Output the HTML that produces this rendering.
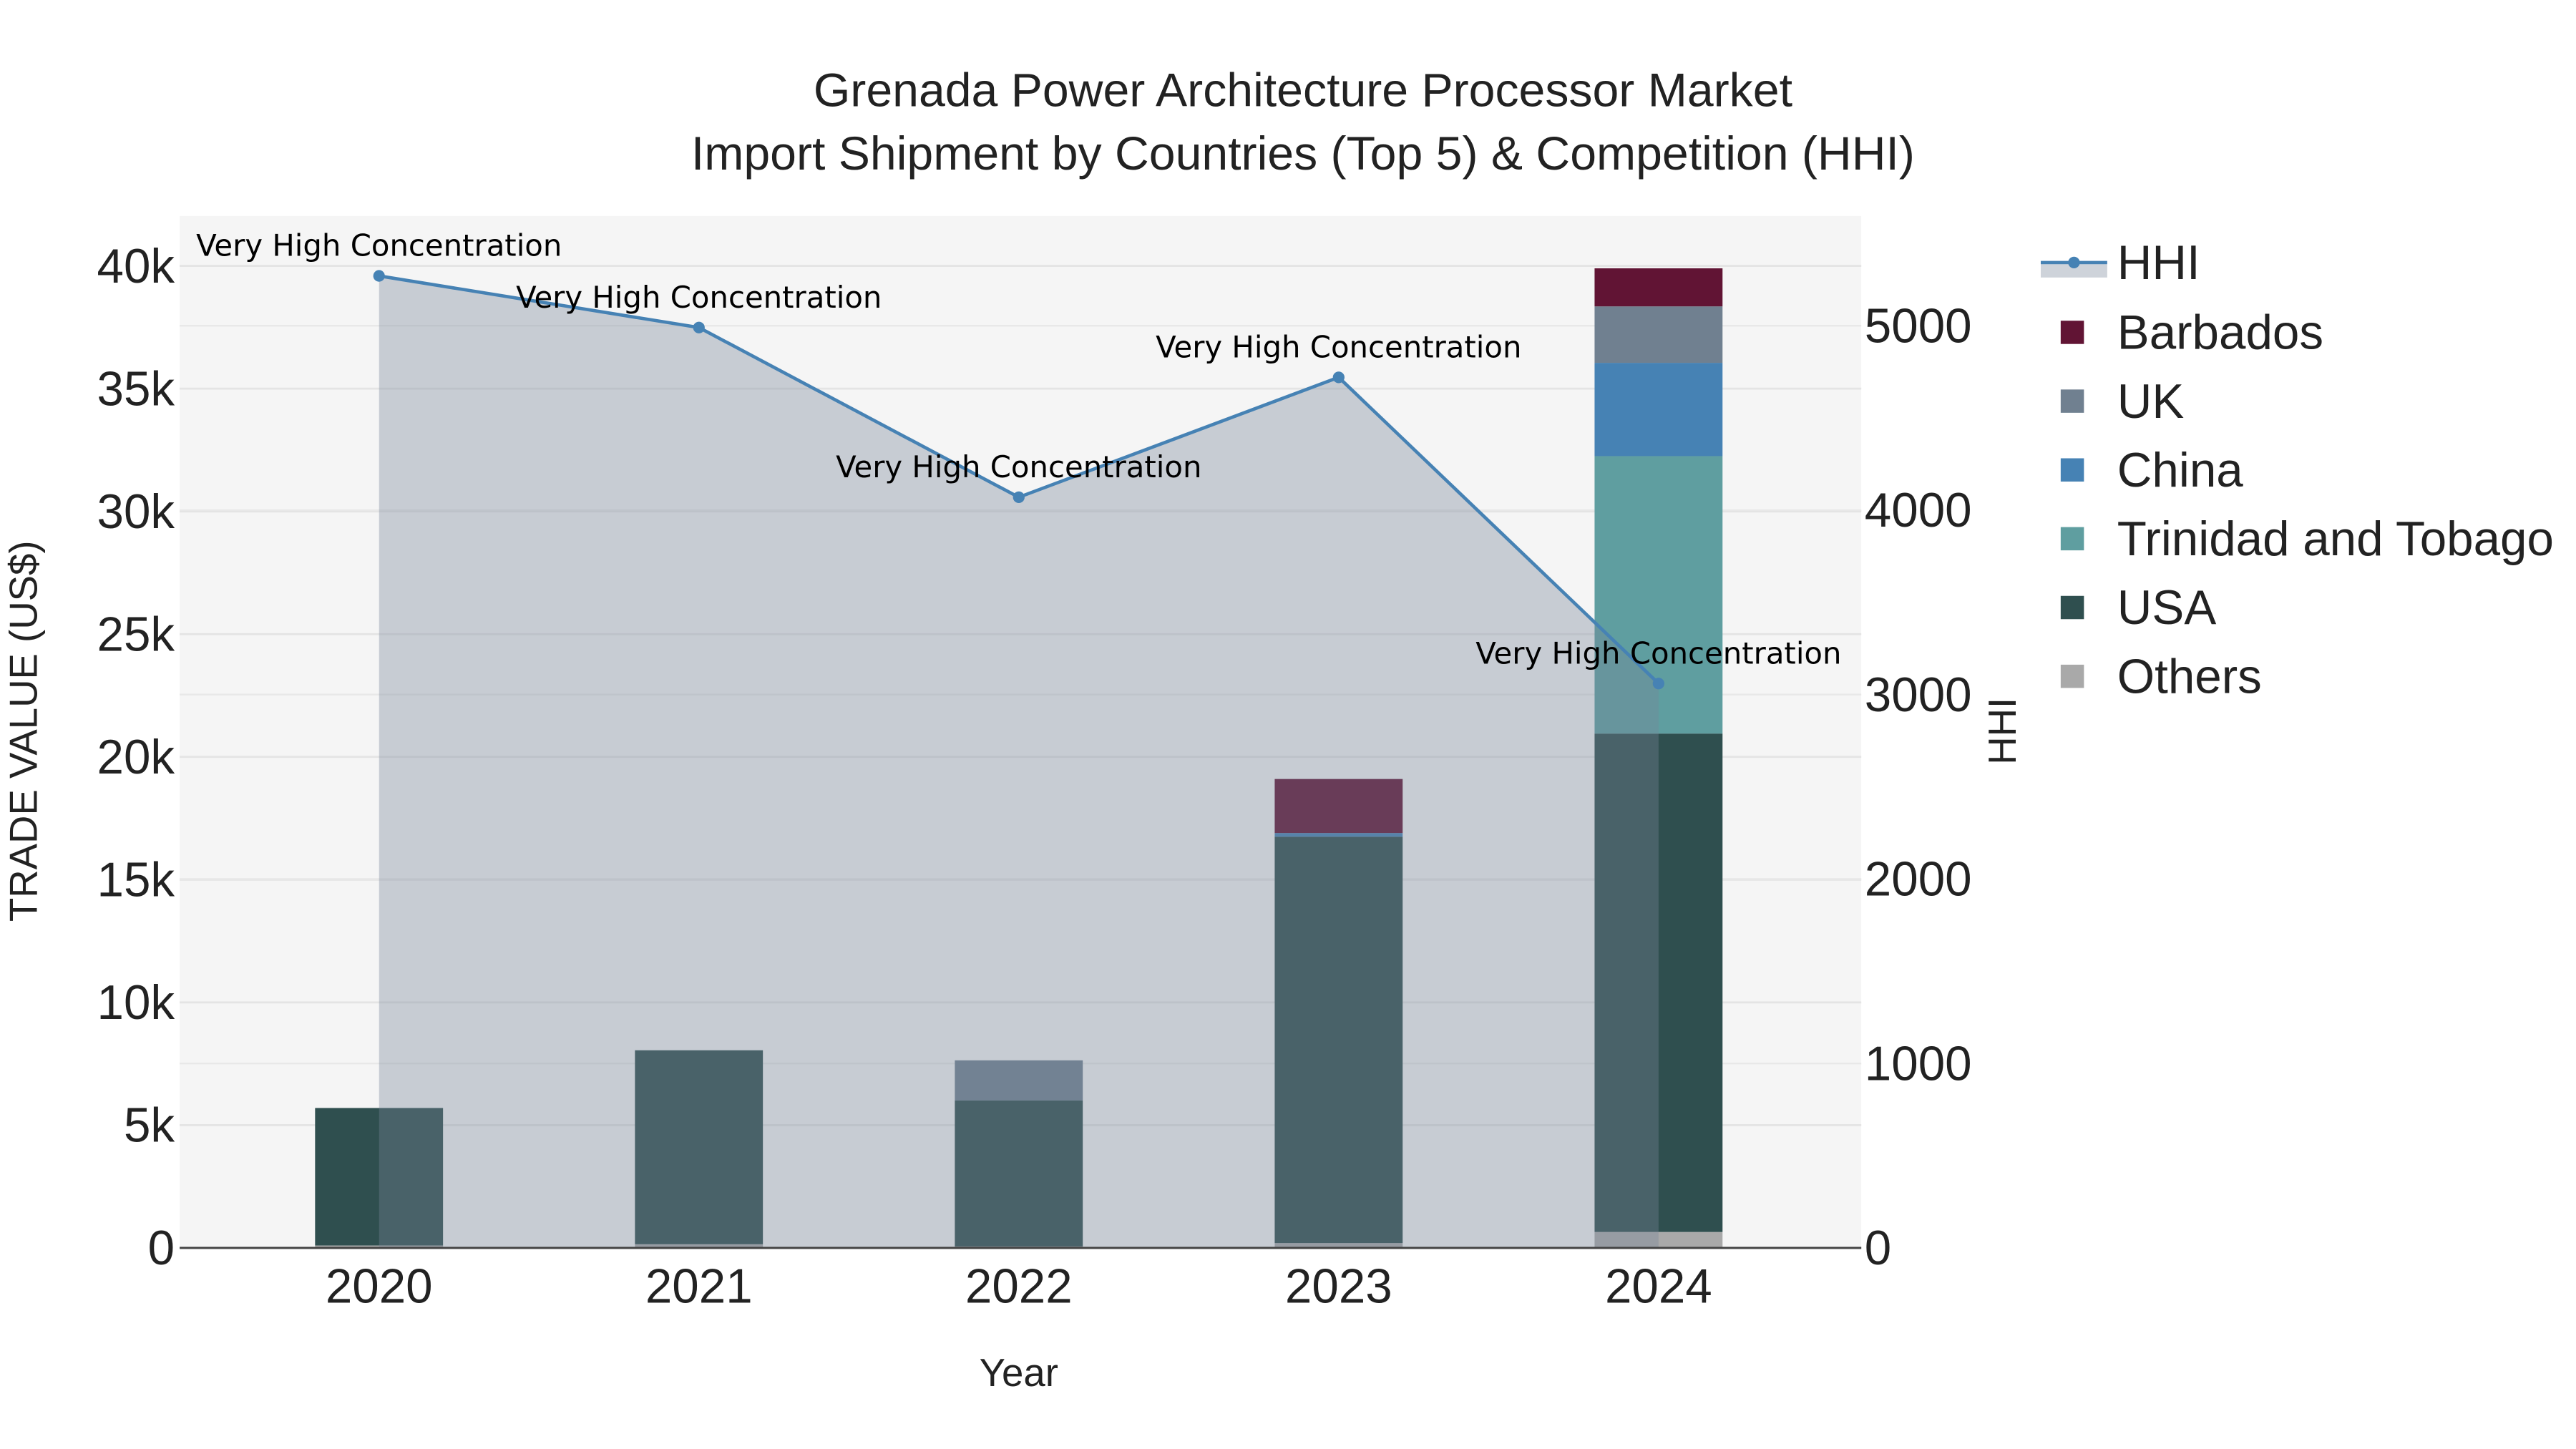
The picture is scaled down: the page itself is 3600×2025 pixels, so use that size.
<!DOCTYPE html>
<html><head><meta charset="utf-8"><style>
html,body{margin:0;padding:0;background:#fff;}
svg{display:block;}
text{font-family:"Liberation Sans",Arial,sans-serif;fill:#222;}
.ann{font-family:"DejaVu Sans",sans-serif;font-size:18px;fill:#000;}
</style></head><body>
<svg id="chart" width="3600" height="2025" viewBox="0 0 1550 872" xmlns="http://www.w3.org/2000/svg">
<rect x="0" y="0" width="1550" height="872" fill="#fff"/>
<rect x="108" y="130" width="1012" height="621" fill="#f5f5f5"/>
<g id="grid"></g>
<g id="bars"></g>
<g id="hhi"></g>
<g id="axes"></g>
<text x="784" y="64" text-anchor="middle" font-size="28.5">Grenada Power Architecture Processor Market</text>
<text x="784" y="102" text-anchor="middle" font-size="28.5">Import Shipment by Countries (Top 5) &amp; Competition (HHI)</text>
<text x="613" y="834" text-anchor="middle" font-size="23.5">Year</text>
<text transform="translate(22,440) rotate(-90)" text-anchor="middle" font-size="23.5">TRADE VALUE (US$)</text>
<text transform="translate(1213,440) rotate(-90)" text-anchor="middle" font-size="23.5">HHI</text>
<g id="legend"></g>
</svg>
<script>
const years = ["2020","2021","2022","2023","2024"];
const seriesNames = ["Others","USA","Trinidad and Tobago","China","UK","Barbados"];
const others = [100, 150, 60, 200, 650];
const usa = [5600, 7900, 5950, 16550, 20300];
const trinidad = [0, 0, 0, 0, 11300];
const china = [0, 0, 0, 150, 3800];
const uk = [0, 0, 1630, 0, 2300];
const barbados = [0, 0, 0, 2200, 1550];
const hhi = [5270, 4990, 4070, 4720, 3060];
const hhiLabels = ["Very High Concentration","Very High Concentration","Very High Concentration","Very High Concentration","Very High Concentration"];
const leftTicks = [0,5000,10000,15000,20000,25000,30000,35000,40000];
const leftTickLabels = ["0","5k","10k","15k","20k","25k","30k","35k","40k"];
const rightTicks = [0,1000,2000,3000,4000,5000];
const colors = ["#a9a9a9","#2f4f4f","#5f9ea0","#4682b4","#708090","#611434"];

const NS="http://www.w3.org/2000/svg";
function mk(tag,attrs,parent){const e=document.createElementNS(NS,tag);for(const k in attrs)e.setAttribute(k,attrs[k]);parent.appendChild(e);return e;}
const X0=108,X1=1120,Y0=751;
function xs(i){return 228+i*192.5;}
function yL(v){return Y0-v*(591/40000);}
function yR(v){return Y0-v*(555/5000);}

const grid=document.getElementById('grid');
leftTicks.forEach(t=>{const l=mk('line',{x1:X0,x2:X1,y1:yL(t),y2:yL(t),stroke:'#e4e4e4','stroke-width':1.2},grid);
});
rightTicks.forEach(t=>{const l=mk('line',{x1:X0,x2:X1,y1:yR(t),y2:yR(t),stroke:'#e8e8e8','stroke-width':1},grid);
});

const bars=document.getElementById('bars');
const data=[others,usa,trinidad,china,uk,barbados];
years.forEach((y,i)=>{let base=0;data.forEach((s,k)=>{const v=s[i];if(v<=0)return;
const r=mk('rect',{x:xs(i)-38.5,width:77,y:yL(base+v),height:yL(base)-yL(base+v),fill:colors[k]},bars);

base+=v;});});

const hg=document.getElementById('hhi');
let d='M'+xs(0)+','+Y0;hhi.forEach((v,i)=>d+=' L'+xs(i)+','+yR(v));d+=' L'+xs(hhi.length-1)+','+Y0+' Z';
const area=mk('path',{d:d,fill:'rgba(118,132,152,0.36)'},hg);

const line=mk('polyline',{points:hhi.map((v,i)=>xs(i)+','+yR(v)).join(' '),fill:'none',stroke:'#4682b4','stroke-width':2},hg);

hhi.forEach((v,i)=>{const c=mk('circle',{cx:xs(i),cy:yR(v),r:3.5,fill:'#4682b4'},hg);

const t=mk('text',{x:xs(i),y:yR(v)-12,'text-anchor':'middle',class:'ann'},hg);t.textContent=hhiLabels[i];
});

const ax=document.getElementById('axes');
const bl=mk('line',{x1:X0,x2:X1,y1:Y0,y2:Y0,stroke:'#444','stroke-width':1.3},ax);

years.forEach((y,i)=>{const t=mk('text',{x:xs(i),y:784,'text-anchor':'middle','font-size':29},ax);t.textContent=y;
});
leftTicks.forEach((v,i)=>{const t=mk('text',{x:105,y:yL(v)+10,'text-anchor':'end','font-size':29},ax);t.textContent=leftTickLabels[i];
});
rightTicks.forEach(v=>{const t=mk('text',{x:1122,y:yR(v)+10,'text-anchor':'start','font-size':29},ax);t.textContent=String(v);
});

const lg=document.getElementById('legend');
const hl=mk('g',{},lg);
mk('rect',{x:1228,y:159,width:40,height:8,fill:'rgba(118,132,152,0.36)'},hl);
mk('line',{x1:1228,x2:1268,y1:158,y2:158,stroke:'#4682b4','stroke-width':2},hl);
mk('circle',{cx:1248,cy:158,r:3.5,fill:'#4682b4'},hl);
const ht=mk('text',{x:1274,y:168,'font-size':29},hl);ht.textContent='HHI';
const legendOrder=[5,4,3,2,1,0];
legendOrder.forEach((k,j)=>{const y=200+j*41.4;const g=mk('g',{},lg);

mk('rect',{x:1240,y:y-7,width:14,height:14,fill:colors[k]},g);
const t=mk('text',{x:1274,y:y+10,'font-size':29},g);t.textContent=seriesNames[k];});
</script>
</body></html>
